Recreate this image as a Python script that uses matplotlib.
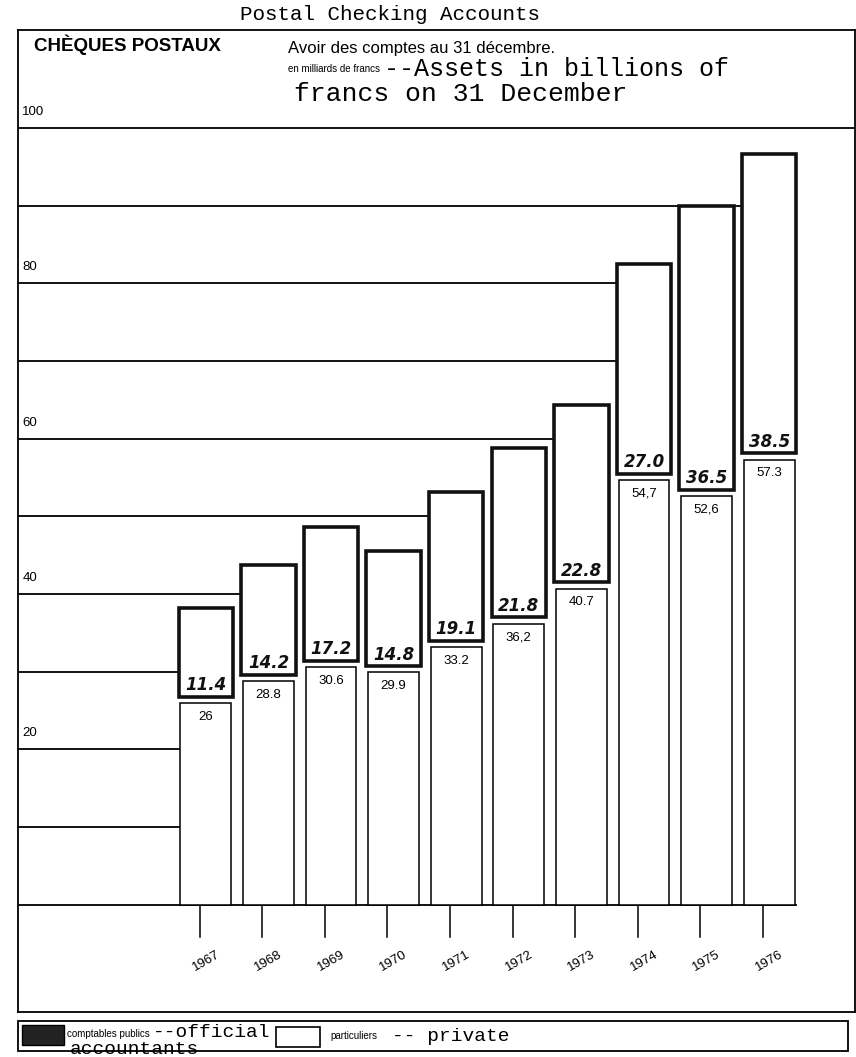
import matplotlib
matplotlib.use("Agg")
import matplotlib.pyplot as plt
from matplotlib.patches import Rectangle

# ---- data ----
years = ["1967", "1968", "1969", "1970", "1971", "1972", "1973", "1974", "1975", "1976"]
private = [26, 28.8, 30.6, 29.9, 33.2, 36.2, 40.7, 54.7, 52.6, 57.3]
private_labels = ["26", "28.8", "30.6", "29.9", "33.2", "36,2", "40.7", "54,7", "52,6", "57.3"]
official = [11.4, 14.2, 17.2, 14.8, 19.1, 21.8, 22.8, 27.0, 36.5, 38.5]
official_labels = ["11.4", "14.2", "17.2", "14.8", "19.1", "21.8", "22.8", "27.0", "36.5", "38.5"]
grid_levels = [10, 20, 30, 40, 50, 60, 70, 80, 90, 100]
labeled_levels = [20, 40, 60, 80, 100]

W, H = 856, 1057
fig = plt.figure(figsize=(W / 100, H / 100), dpi=100)
fig.patch.set_facecolor("white")

MONO = ["Liberation Mono", "DejaVu Sans Mono"]
SANS = ["Liberation Sans", "DejaVu Sans"]

def fx(px):
    return px / W

def fy(py):
    return 1 - py / H

# main frame axes
ax_left, ax_right, ax_top, ax_bot = 18, 855, 30, 1012
ax = fig.add_axes([fx(ax_left), fy(ax_bot), fx(ax_right) - fx(ax_left), fy(ax_top) - fy(ax_bot)])
ymin, ymax = -13.8, 112.6
xmin, xmax = -3.0, 10.37
ax.set_xlim(xmin, xmax)
ax.set_ylim(ymin, ymax)
ax.set_xticks([])
ax.set_yticks([])
for s in ax.spines.values():
    s.set_linewidth(1.3)
    s.set_color("black")

n = len(years)
xs = list(range(n))
width = 0.87
gap = 0.8

# gridlines stopping at first bar that reaches them
tops = [p + gap + o for p, o in zip(private, official)]
for lev in grid_levels:
    xend = xmax
    for i in xs:
        if tops[i] >= lev:
            xend = i - width / 2
            break
    ax.plot([xmin, xend], [lev, lev], color="black", lw=1.3, zorder=1)
    if lev in labeled_levels:
        ax.text(xmin + 0.07, lev + 1.3, str(lev), fontsize=9.5, family=SANS,
                ha="left", va="bottom", zorder=2)

# baseline
ax.plot([xmin, xs[-1] + width / 2], [0, 0], color="black", lw=1.3, zorder=1)

# private bars
ax.bar(xs, private, width=width * 0.93, color="white", edgecolor="black", lw=1.1, zorder=3)
# official bars
ax.bar(xs, official, width=width, bottom=[p + gap for p in private],
       color="white", edgecolor="#111111", lw=2.6, zorder=3)

for i in xs:
    ax.text(i, private[i] - 1.0, private_labels[i], ha="center", va="top",
            fontsize=9.5, family=SANS, zorder=4)
    ax.text(i, private[i] + gap + 0.35, official_labels[i], ha="center", va="bottom",
            fontsize=12, fontweight="bold", style="italic", color="#111111", zorder=4)
    # tick marks and year labels
    ax.plot([i - 0.1, i - 0.1], [0, -4.2], color="black", lw=1.1, zorder=2)
    ax.text(i, -5.6, years[i], rotation=30, ha="center", va="top", fontsize=9.5,
            family=SANS)

# ---- header ----
fig.text(fx(390), fy(15), "Postal Checking Accounts", family=MONO, fontsize=15,
         ha="center", va="center")
fig.text(fx(34), fy(45), "CHÈQUES POSTAUX", fontsize=13.5, fontweight="bold",
         family=SANS, ha="left", va="center")
fig.text(fx(288), fy(48), "Avoir des comptes au 31 décembre.", fontsize=12,
         family=SANS, ha="left", va="center")
fig.text(fx(288), fy(72), "en milliards de francs", fontsize=7,
         family=SANS, ha="left", va="baseline")
fig.text(fx(384), fy(76), "--Assets in billions of", fontsize=18,
         family=MONO, ha="left", va="baseline")
fig.text(fx(294), fy(101), "francs on 31 December", fontsize=19,
         family=MONO, ha="left", va="baseline")

# ---- legend box ----
fig.patches.append(Rectangle((fx(18), fy(1051)), fx(848) - fx(18), fy(1021) - fy(1051),
                             transform=fig.transFigure, facecolor="none",
                             edgecolor="black", lw=1.3))
fig.patches.append(Rectangle((fx(22), fy(1045)), fx(64) - fx(22), fy(1025) - fy(1045),
                             transform=fig.transFigure, facecolor="#222222",
                             edgecolor="black", lw=1.0))
fig.patches.append(Rectangle((fx(276), fy(1047)), fx(320) - fx(276), fy(1027) - fy(1047),
                             transform=fig.transFigure, facecolor="white",
                             edgecolor="black", lw=1.2))
fig.text(fx(67), fy(1034), "comptables publics", fontsize=7, family=SANS,
         ha="left", va="center")
fig.text(fx(153), fy(1037), "--official", fontsize=14, family=MONO,
         ha="left", va="baseline")
fig.text(fx(70), fy(1054), "accountants", fontsize=14, family=MONO,
         ha="left", va="baseline")
fig.text(fx(330), fy(1036), "particuliers", fontsize=7, family=SANS,
         ha="left", va="center")
fig.text(fx(392), fy(1041), "-- private", fontsize=14, family=MONO,
         ha="left", va="baseline")

fig.savefig("out.png", dpi=100, facecolor="white")
